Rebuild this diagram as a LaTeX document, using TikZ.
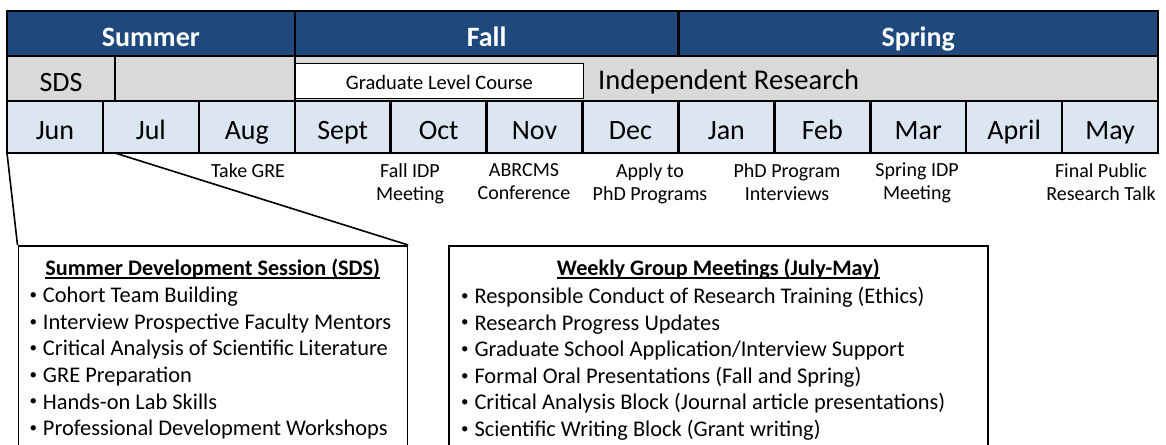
\documentclass[tikz,border=0pt]{standalone}
\usepackage{fontspec}
\setmainfont{Carlito}
\usetikzlibrary{positioning}

\definecolor{seasonblue}{RGB}{31,73,125}
\definecolor{bandgray}{RGB}{217,217,217}
\definecolor{monthblue}{RGB}{220,230,242}

\newcommand{\ulined}[1]{\sbox0{#1}\rlap{\rule[-3.5pt]{\wd0}{1.5pt}}\usebox0}
\newcommand{\bul}{\makebox[13.3pt][l]{\raisebox{3.2pt}{\fontsize{15}{15}\selectfont\textbullet}}}

\tikzset{
  cell/.style={draw, line width=2.5pt, inner sep=0pt, outer sep=0pt,
    text height=27pt, text depth=2pt, font=\fontsize{28}{32}\selectfont},
  season/.style={cell, fill=seasonblue, text=white, minimum height=45pt,
    font=\fontsize{28}{32}\selectfont\bfseries},
  band/.style={cell, fill=bandgray, minimum height=45pt},
  month/.style={cell, fill=monthblue, minimum width=95.92pt, minimum height=52pt},
  coursebox/.style={draw, fill=white, line width=1.5pt, minimum height=35pt,
    inner sep=0pt, text height=19pt, text depth=1.8pt, font=\fontsize{20.5}{24}\selectfont},
  milestone/.style={anchor=north, align=center, inner sep=0pt,
    font=\fontsize{20}{23}\selectfont},
  listbox/.style={draw, line width=1.6pt, minimum height=230pt, anchor=north west},
  boxtitle/.style={anchor=base, inner sep=0pt, font=\fontsize{22.2}{26}\selectfont\bfseries},
  itemlist/.style={anchor=north west, align=left, inner sep=0pt,
    font=\fontsize{22.4}{26.6}\selectfont},
  callout/.style={line width=1.6pt}
}

\begin{document}
\begin{tikzpicture}[x=1pt, y=-1pt]
  \useasboundingbox (0,0) rectangle (1166,444);

  % seasons
  \node (summer) [season, minimum width=287.75pt, anchor=north west] at (7,11) {Summer};
  \node (fall) [season, minimum width=383.67pt, right=0pt of summer] {Fall};
  \node (spring) [season, minimum width=479.58pt, right=0pt of fall] {Spring};

  % activity band
  \node (sds) [band, minimum width=108pt, anchor=north west] at (summer.south west) {SDS};
  \node (gap) [band, minimum width=179.75pt, right=0pt of sds] {};
  \node (research) [band, minimum width=863.25pt, right=0pt of gap] {};
  \node (course) [coursebox, minimum width=287.75pt, anchor=south west]
    at ([yshift=2pt]gap.south east) {Graduate Level Course};
  \node (indep) [right=14pt of course, inner sep=0pt, text height=20pt, text depth=2pt,
    font=\fontsize{28.6}{32}\selectfont] {Independent Research};

  % months
  \node (jun) [month, anchor=north west] at (sds.south west) {Jun};
  \node (jul) [month, right=0pt of jun] {Jul};
  \node (aug) [month, right=0pt of jul] {Aug};
  \node (sep) [month, right=0pt of aug] {Sept};
  \node (oct) [month, right=0pt of sep] {Oct};
  \node (nov) [month, right=0pt of oct] {Nov};
  \node (dec) [month, right=0pt of nov] {Dec};
  \node (jan) [month, right=0pt of dec] {Jan};
  \node (feb) [month, right=0pt of jan] {Feb};
  \node (mar) [month, right=0pt of feb] {Mar};
  \node (apr) [month, right=0pt of mar] {April};
  \node (may) [month, right=0pt of apr] {May};

  % milestones
  \node (gre) [milestone] at (248,163) {Take GRE};
  \node (fallidp) [milestone] at (410,163) {Fall IDP\\Meeting};
  \node (abrcms) [milestone] at (524,163) {ABRCMS\\Conference};
  \node (apply) [milestone] at (650,163) {Apply to\\PhD Programs};
  \node (interviews) [milestone] at (787,163) {PhD Program\\Interviews};
  \node (springidp) [milestone] at (917,163) {Spring IDP\\Meeting};
  \node (talk) [milestone] at (1101,163) {Final Public\\Research Talk};

  % summer session box
  \node (sdsbox) [listbox, minimum width=389pt] at (17.5,245) {};
  \node (sdstitle) [boxtitle] at ([yshift=-30pt]sdsbox.north)
    {\ulined{Summer Development Session (SDS)}};
  \node (sdsitems) [itemlist] at ([xshift=12pt, yshift=-42pt]sdsbox.north west)
    {\bul Cohort Team Building\\
     \bul Interview Prospective Faculty Mentors\\
     \bul Critical Analysis of Scientific Literature\\
     \bul GRE Preparation\\
     \bul Hands-on Lab Skills\\
     \bul Professional Development Workshops};

  % weekly meetings box
  \node (weekbox) [listbox, minimum width=539pt] at (448,245) {};
  \node (weektitle) [boxtitle] at ([yshift=-30pt]weekbox.north)
    {\ulined{Weekly Group Meetings (July-May)}};
  \node (weekitems) [itemlist] at ([xshift=13pt, yshift=-42pt]weekbox.north west)
    {\bul Responsible Conduct of Research Training (Ethics)\\
     \bul Research Progress Updates\\
     \bul Graduate School Application/Interview Support\\
     \bul Formal Oral Presentations (Fall and Spring)\\
     \bul Critical Analysis Block (Journal article presentations)\\
     \bul Scientific Writing Block (Grant writing)};

  % callout from the SDS cell
  \draw [callout] (sds.west |- jun.south) -- (sdsbox.north west);
  \draw [callout] (sds.east |- jun.south) -- (sdsbox.north east);
\end{tikzpicture}
\end{document}
